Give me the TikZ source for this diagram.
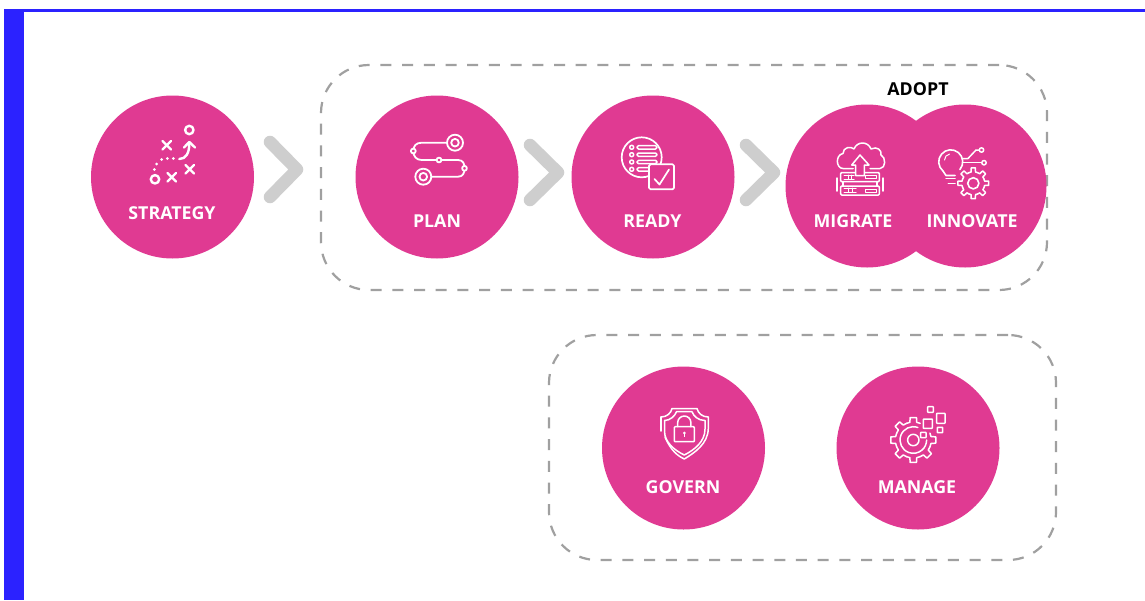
\documentclass[tikz,border=0pt]{standalone}
\usepackage{fontspec}
\setmainfont{Open Sans}
\definecolor{pinkc}{HTML}{E03A92}
\definecolor{bluec}{HTML}{2B22FF}
\definecolor{chevc}{HTML}{CECECE}
\definecolor{dashc}{HTML}{A0A0A0}
\tikzset{
 disc/.style={circle,fill=pinkc,draw=none,minimum size=163pt,inner sep=0pt},
 lbl/.style={text=white,font=\fontsize{17.8}{20}\selectfont\bfseries,inner sep=0pt,anchor=base},
 chev/.style={draw=chevc,line width=12.5pt,line cap=round,line join=round},
 groupbox/.style={draw=dashc,line width=2.2pt,rounded corners=48pt,dash pattern=on 11pt off 10.7pt},
 ico/.style={draw=white,line width=1.5pt,line cap=round,line join=round},
 icothin/.style={draw=white,line width=1pt,line cap=round,line join=round},
 icothick/.style={draw=white,line width=2.4pt,line cap=round,line join=round},
}
\newcommand{\gearteeth}[5]{% cx cy router rinner list of tooth centres
 \foreach \a in {#5}{
  \draw[ico,shift={(#1,#2)}] (\a-22.5:#4) -- (\a-11:#4) -- (\a-8:#3) -- (\a+8:#3) -- (\a+11:#4) -- (\a+22.5:#4);
 }}
\begin{document}
\begin{tikzpicture}[x=1pt,y=-1pt]
\useasboundingbox (0,0) rectangle (1145,600);
\fill[white] (0,0) rectangle (1145,600);
\fill[bluec] (4,9) rectangle (24,600);
\fill[bluec] (18,9) rectangle (1145,11.5);
% groups
\node[groupbox,minimum width=726pt,minimum height=225pt,inner sep=0pt] (grpA) at (684,177.5) {};
\node[groupbox,minimum width=507pt,minimum height=225pt,inner sep=0pt] (grpB) at (802.5,447.5) {};
% chevrons
\draw[chev] (270,142) -- (297,169.5) -- (270,197);
\draw[chev] (530,145) -- (558,172.5) -- (530,200);
\draw[chev] (746,145) -- (774,172.5) -- (746,200);
% circles
\node[disc] (strategy) at (172.5,177) {};
\node[disc] (plan) at (437,177) {};
\node[disc] (ready) at (653,177) {};
\node[disc] (innovate) at (965,186) {};
\node[disc] (migrate) at (867,186) {};
\node[disc] (govern) at (683.5,448) {};
\node[disc] (manage) at (918,448) {};
% labels
\node[lbl] (tstrategy) at (172,219) {STRATEGY};
\node[lbl] (tplan) at (437,227) {PLAN};
\node[lbl] (tready) at (652.5,227) {READY};
\node[lbl] (tmigrate) at (853,227) {MIGRATE};
\node[lbl] (tinnovate) at (972,227) {INNOVATE};
\node[lbl] (tgovern) at (683,493) {GOVERN};
\node[lbl] (tmanage) at (917,493) {MANAGE};
\node[lbl,text=black] (tadopt) at (918,95) {ADOPT};
% strategy icon
\draw[icothick] (189.3,130) circle (4.2);
\draw[icothick] (155,179.3) circle (4.2);
\draw[icothick] (162.5,141)--(171,149.5) (171,141)--(162.5,149.5);
\draw[icothick] (167.5,173)--(176,181.5) (176,173)--(167.5,181.5);
\draw[icothick] (185.5,165)--(194,173.5) (194,165)--(185.5,173.5);
\draw[icothick] (179.3,159) .. controls (186,159) and (189.3,153) .. (189.3,143.5);
\draw[icothick] (184,147.5)--(189.3,142)--(195,147.5);
\foreach \p in {(173.3,158.5),(167.3,158.5),(161.7,159.5),(156.7,164),(154.3,169.5)}
  \fill[white] \p circle (1.5);
% plan icon
\draw[icothick,line width=1.8pt] (455,142.7) circle (8);
\draw[icothick,line width=1.8pt] (455,142.7) circle (3.8);
\draw[icothick,line width=1.8pt] (423.3,176.7) circle (8);
\draw[icothick,line width=1.8pt] (423.3,176.7) circle (3.8);
\draw[icothick,line width=1.8pt] (446.5,142.7) -- (421.7,142.7) .. controls (416,142.7) and (413.3,146) .. (413.3,151)
  .. controls (413.3,156) and (416,160) .. (421.7,160) -- (458,160)
  .. controls (463.5,160) and (464.5,164) .. (464.5,168.5)
  .. controls (464.5,173) and (463,176.7) .. (458,176.7) -- (432,176.7);
\foreach \p in {(413.3,151),(439,160),(464.5,168.3)}
  \draw[icothick,line width=1.8pt,fill=pinkc] \p circle (2.4);
% ready icon
\draw[ico,line width=1.7pt] (641.7,157.3) circle (20);
\foreach \y in {147.3,154.7,162,169.3}{
  \draw[ico] (631.7,\y) circle (2);
  \draw[ico] (638.5,\y-1.7) -- (655.5,\y-1.7) arc[start angle=270,end angle=450,radius=1.7] -- (638.5,\y+1.7) arc[start angle=90,end angle=270,radius=1.7];
}
\draw[ico,line width=1.7pt,fill=pinkc,rounded corners=1.5pt] (649,164.3) rectangle (674,189.3);
\draw[ico,line width=1.7pt] (654.5,179) -- (659.5,184.5) -- (669,169.5);
% migrate icon
\draw[ico] (853,168.5) -- (843,168.5) .. controls (836,168.5) and (835,155) .. (843,153.5)
  .. controls (843,147) and (851,146) .. (854,149) .. controls (857,141) and (868,141) .. (871,149)
  .. controls (877,146) and (882,150) .. (881,155) .. controls (886,157) and (886,168.5) .. (880,168.5) -- (870,168.5);
\draw[ico,rounded corners=1pt,fill=pinkc] (840.7,172.5) rectangle (879.3,181.7);
\draw[ico,rounded corners=1pt] (840.7,186) rectangle (879.3,195);
\draw[ico] (837,178) -- (837,191) (883,178) -- (883,191) (843,181.7)--(843,186) (877,181.7)--(877,186);
\draw[icothin] (844,175) -- (854,175) (844,179) -- (854,179) (848,175)--(848,179) (851,175)--(851,179);
\draw[icothin] (844,188) -- (856,188) (844,192.5) -- (856,192.5) (848,188)--(848,192.5) (852,188)--(852,192.5);
\draw[icothin] (865,175.5) rectangle (876,178.5) (865,189) rectangle (876,192);
\draw[ico,fill=pinkc] (851.7,165) -- (860,155) -- (869,165) -- (864.3,165) -- (864.3,175.7) -- (855.7,175.7) -- (855.7,165) -- cycle;
% innovate icon
\draw[ico,line width=1.6pt] (943,171) ++(0,0) arc[start angle=130,end angle=400,radius=12];
\draw[ico,line width=1.6pt] (943,171) -- (946,175.5) -- (955,175.5);
\draw[icothin] (944.5,160) arc[start angle=180,end angle=260,radius=6];
\draw[ico] (946,178.5)--(955,178.5) (948.3,183.5)--(955,183.5);
\draw[ico] (962.5,158.5) -- (968,158.5) -- (976,150) -- (979,150);
\draw[ico] (962.5,162.7) -- (981,162.7);
\draw[ico] (981.5,150) circle (2.2) (984,162.7) circle (2.2);
\gearteeth{973.3}{183.3}{15.5}{11.5}{0,45,90,135,180,225,270,315}
\draw[ico,line width=1.6pt] (973.3,183.3) circle (5.6);
% govern icon
\draw[ico] (661,417) .. controls (667,417) and (671,413) .. (672,408.5) -- (697,408.5) .. controls (698,413) and (702,417) .. (708.3,417) -- (708.3,428) .. controls (708.3,444) and (694,453) .. (684.3,459) .. controls (678,456) and (671,451) .. (665,437);
\draw[ico] (661,417) -- (661,431);
\draw[ico] (664.5,420.5) .. controls (670,420.5) and (675,416) .. (676.5,411.7) -- (692,411.7) .. controls (693.5,416) and (698,420.5) .. (705,420.5) -- (705,429) .. controls (705,442) and (694,450) .. (684.3,455) .. controls (674,450) and (664.5,442) .. (664.5,431) -- cycle;
\draw[ico,rounded corners=.8pt] (674.3,426.7) rectangle (694.3,441.7);
\draw[ico] (677.7,426.7) -- (677.7,422.6) arc[start angle=180,end angle=360,radius=6.6] -- (690.9,426.7);
\fill[white] (684.3,433) circle (1.5);
\draw[white,line width=.9pt] (684.3,433) -- (684.3,437);
% manage icon
\gearteeth{913.3}{440}{22.7}{18}{0,45,90,135,180,225,270}
\draw[ico] (913.3,440) ++(290:13.3) arc[start angle=290,end angle=0,radius=13.3];
\draw[ico] (913.3,440) circle (5.7);
\draw[ico,fill=pinkc,rounded corners=.5pt] (923.3,419) rectangle (932.3,428.3);
\draw[ico,fill=pinkc,rounded corners=.5pt] (936.7,413.3) rectangle (945,423.3);
\draw[ico,fill=pinkc,rounded corners=.5pt] (927.7,406.7) rectangle (933.3,412.3);
\draw[ico,fill=pinkc,rounded corners=.5pt] (937.3,427.3) rectangle (942.7,432.7);
\draw[ico,fill=pinkc,rounded corners=.5pt] (920.7,432.3) rectangle (926,437.7);
\end{tikzpicture}
\end{document}
